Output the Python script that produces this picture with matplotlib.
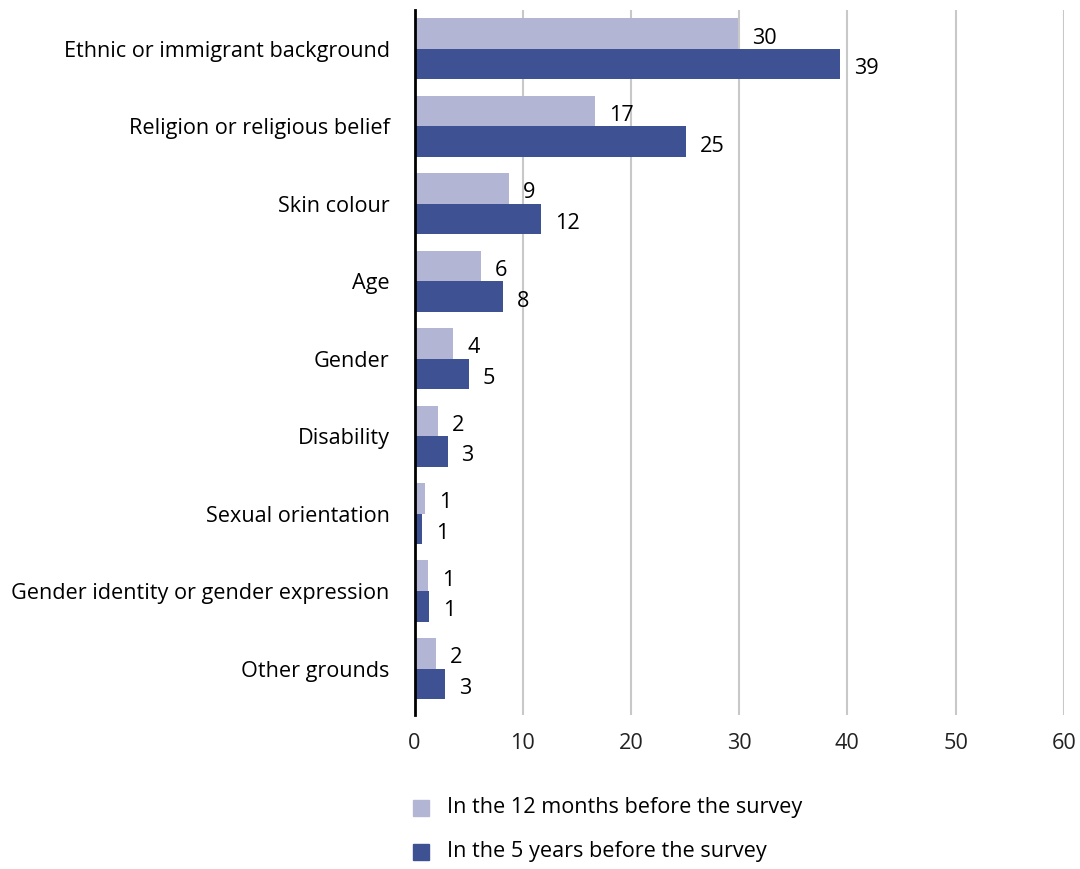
import matplotlib
matplotlib.use("Agg")
import matplotlib.pyplot as plt
import numpy as np

categories = [
    "Ethnic or immigrant background",
    "Religion or religious belief",
    "Skin colour",
    "Age",
    "Gender",
    "Disability",
    "Sexual orientation",
    "Gender identity or gender expression",
    "Other grounds",
]
# bar lengths as drawn, and the rounded labels printed next to them
months_12 = [29.9, 16.7, 8.7, 6.1, 3.6, 2.2, 1.0, 1.25, 2.0]
years_5 = [39.3, 25.1, 11.7, 8.15, 5.0, 3.05, 0.7, 1.35, 2.85]
labels_12 = ["30", "17", "9", "6", "4", "2", "1", "1", "2"]
labels_5 = ["39", "25", "12", "8", "5", "3", "1", "1", "3"]
series_names = ["In the 12 months before the survey", "In the 5 years before the survey"]
xticks = [0, 10, 20, 30, 40, 50, 60]

light = "#b3b5d4"
dark = "#3e5192"

plt.rcParams["font.family"] = ["Open Sans", "DejaVu Sans"]
fs = 15.6

fig = plt.figure(figsize=(10.8, 8.69), dpi=100)
ax = fig.add_axes([0.3838, 0.1772, 0.6012, 0.8113])

y = np.arange(len(categories))
h = 0.395
b1 = ax.barh(y - h / 2, months_12, height=h, color=light, zorder=3)
b2 = ax.barh(y + h / 2, years_5, height=h, color=dark, zorder=3)

for bars, labs in [(b1, labels_12), (b2, labels_5)]:
    for rect, lab in zip(bars, labs):
        ax.annotate(lab, (rect.get_width(), rect.get_y() + rect.get_height() / 2),
                    xytext=(10, -1.5), textcoords="offset points",
                    ha="left", va="center_baseline", fontsize=fs, color="black")

ax.set_xlim(0, 60)
ax.set_ylim(8.6, -0.5)
ax.set_yticks(y)
ax.set_yticklabels(categories, fontsize=fs, color="black")
ax.set_xticks(xticks)
ax.set_xticklabels([str(t) for t in xticks], fontsize=fs, color="#222222")
ax.tick_params(axis="both", length=0)
ax.tick_params(axis="y", pad=18)
ax.tick_params(axis="x", pad=13)

ax.grid(axis="x", color="#c8c8c8", linewidth=1.5, zorder=0)
for s in ["top", "right", "bottom"]:
    ax.spines[s].set_visible(False)
ax.spines["left"].set_linewidth(2)
ax.spines["left"].set_color("black")
ax.spines["left"].set_zorder(4)

# legend below the plot
for i, (name, col) in enumerate(zip(series_names, [light, dark])):
    yy = 1 - (808 + i * 44) / 869
    fig.patches.append(plt.Rectangle((413 / 1080, yy - 8 / 869), 16 / 1080, 16 / 869,
                                     transform=fig.transFigure, color=col, figure=fig))
    fig.text(447 / 1080, yy, name, fontsize=fs, va="center", ha="left", color="black")

fig.savefig("out.png", dpi=100)
